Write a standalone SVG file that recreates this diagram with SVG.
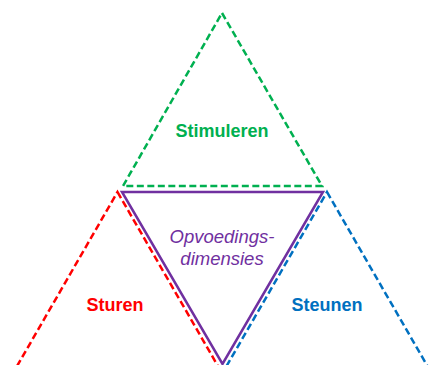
<svg xmlns="http://www.w3.org/2000/svg" width="429" height="365" viewBox="0 0 429 365">
<style>
.tri{fill:none;stroke-width:2.5;stroke-linejoin:miter}
.dash{stroke-dasharray:7 3.5}
.lbl{font-family:"Liberation Sans",Arial,sans-serif;font-weight:bold;font-size:18px;text-anchor:middle}
.it{font-family:"Liberation Sans",Arial,sans-serif;font-style:italic;font-size:18.5px;text-anchor:middle;fill:#7030A0}
</style>
<rect width="429" height="365" fill="#fff"/>
<g id="sturen">
<polygon class="tri dash" points="117.5,192 228,383.5 7,383.5" stroke="#FF0000"/>
<text class="lbl" x="115" y="311" fill="#FF0000">Sturen</text>
</g>
<g id="steunen">
<polygon class="tri dash" points="327,192 437.5,383.5 216.5,383.5" stroke="#0070C0"/>
<text class="lbl" x="327" y="311" fill="#0070C0">Steunen</text>
</g>
<g id="stimuleren">
<polygon class="tri dash" points="222,13 322,186 123,186" stroke="#00B050"/>
<text class="lbl" x="222" y="137" fill="#00B050">Stimuleren</text>
</g>
<g id="opvoedingsdimensies">
<polygon class="tri" points="122,192 323,192 222.5,364" stroke="#7030A0"/>
<text class="it" x="222" y="243">Opvoedings-</text>
<text class="it" x="222" y="265">dimensies</text>
</g>
<g id="connectors"></g>
</svg>
